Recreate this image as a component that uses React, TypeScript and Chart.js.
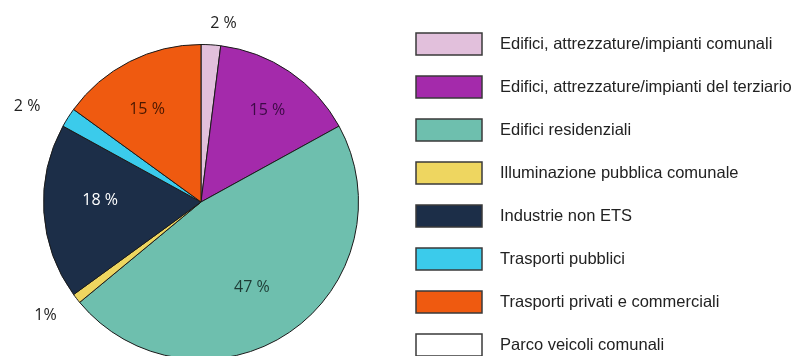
import React, { useEffect, useRef } from 'react';
import { Chart, registerables } from 'chart.js';

Chart.register(...registerables);

const categories = [
  'Edifici, attrezzature/impianti comunali',
  'Edifici, attrezzature/impianti del terziario',
  'Edifici residenziali',
  'Illuminazione pubblica comunale',
  'Industrie non ETS',
  'Trasporti pubblici',
  'Trasporti privati e commerciali',
  'Parco veicoli comunali',
];
const values = [2, 15, 47, 1, 18, 2, 15, 0];
const valueLabels = ['2 %', '15 %', '47 %', '1%', '18 %', '2 %', '15 %', ''];

const colors = ['#e2c0dc', '#a42aab', '#6ebfae', '#eed660', '#1c2e48', '#3bcbeb', '#ef5a10', '#ffffff'];
const labelColors = ['#222222', '#3c0a45', '#1d3a34', '#222222', '#ffffff', '#222222', '#4a1800', '#222222'];
// [fraction along slice, radius factor]
const labelPlacement: [number, number][] = [
  [1.0, 1.14], [0.53, 0.72], [0.52, 0.63], [1.0, 1.22], [0.57, 0.64], [0.0, 1.26], [0.44, 0.68], [0.5, 1.1],
];

const sliceLabels = {
  id: 'sliceLabels',
  afterDatasetsDraw(chart: any) {
    const meta = chart.getDatasetMeta(0);
    const ctx = chart.ctx as CanvasRenderingContext2D;
    ctx.save();
    ctx.font = '16px "Open Sans", "Noto Sans", sans-serif';
    ctx.textAlign = 'center';
    ctx.textBaseline = 'middle';
    meta.data.forEach((arc: any, i: number) => {
      const text = valueLabels[i];
      if (!text) return;
      const p = arc.getProps(['x', 'y', 'startAngle', 'endAngle', 'outerRadius'], true);
      const [f, rf] = labelPlacement[i];
      const a = p.startAngle + (p.endAngle - p.startAngle) * f;
      ctx.fillStyle = labelColors[i];
      ctx.fillText(text, p.x + Math.cos(a) * p.outerRadius * rf, p.y + Math.sin(a) * p.outerRadius * rf);
    });
    ctx.restore();
  },
};

const customLegend = {
  id: 'customLegend',
  afterDraw(chart: any) {
    const ctx = chart.ctx as CanvasRenderingContext2D;
    const labels: string[] = chart.data.labels;
    const bg: string[] = chart.data.datasets[0].backgroundColor;
    const boxX = 416;
    const boxW = 66;
    const boxH = 22;
    const firstY = 44;
    const step = 43;
    ctx.save();
    ctx.font = '16.5px "Liberation Sans", Arial, sans-serif';
    ctx.textBaseline = 'middle';
    ctx.textAlign = 'left';
    labels.forEach((lab, i) => {
      const cy = firstY + i * step;
      ctx.fillStyle = bg[i];
      ctx.fillRect(boxX, cy - boxH / 2, boxW, boxH);
      ctx.lineWidth = 1.5;
      ctx.strokeStyle = '#3a3a3a';
      ctx.strokeRect(boxX, cy - boxH / 2, boxW, boxH);
      ctx.fillStyle = '#222222';
      ctx.fillText(lab, 500, cy);
    });
    ctx.restore();
  },
};

export default function App() {
  const ref = useRef<HTMLCanvasElement>(null);
  useEffect(() => {
    document.body.style.margin = '0';
    const canvas = ref.current!;
    const chart = new Chart(canvas, {
      type: 'pie',
      data: {
        labels: categories,
        datasets: [
          {
            data: values,
            backgroundColor: colors,
            borderColor: '#1a1a1a',
            borderWidth: 1,
          },
        ],
      },
      options: {
        responsive: false,
        maintainAspectRatio: false,
        animation: false,
        layout: { padding: { left: 43, right: 437, top: 44, bottom: 12 } },
        plugins: {
          legend: { display: false },
          tooltip: { enabled: false },
        },
      },
      plugins: [sliceLabels, customLegend],
    });
    return () => chart.destroy();
  }, []);
  return (
    <div style={{ width: 796, height: 356, overflow: 'hidden', background: '#fff' }}>
      <canvas ref={ref} width={796} height={372} style={{ display: 'block', width: 796, height: 372 }} />
    </div>
  );
}
